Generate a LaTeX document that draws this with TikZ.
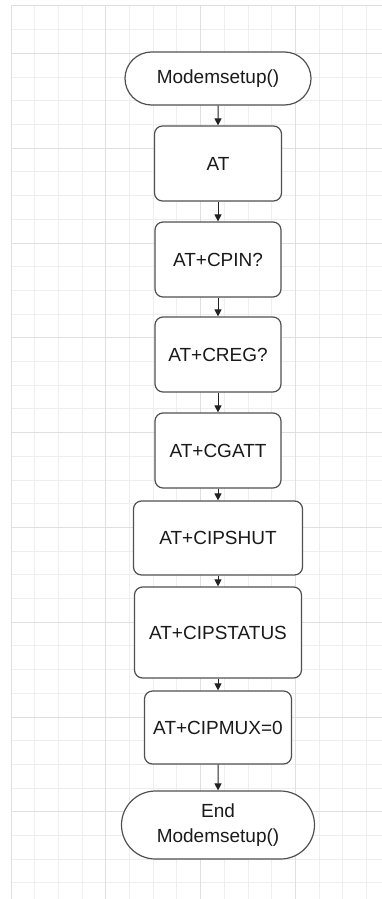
\documentclass[tikz,border=0pt]{standalone}
\usepackage{fontspec}
\setmainfont{Liberation Sans}
\usetikzlibrary{arrows.meta,shapes.misc}

\definecolor{gridminor}{HTML}{EEEEEE}
\definecolor{gridmajor}{HTML}{DFDFDF}
\definecolor{boxline}{HTML}{505050}
\definecolor{flowline}{HTML}{222222}
\definecolor{labeltext}{HTML}{1A1A1A}

\tikzset{
  stepbox/.style={draw=boxline, line width=1.2pt, fill=white, rounded corners=8pt,
    text=labeltext, align=center, inner sep=0pt,
    font=\fontsize{19}{25}\selectfont},
  termbox/.style={stepbox, rounded rectangle, rounded corners=0pt},
  flow/.style={draw=flowline, line width=1pt, -{Triangle[width=7pt,length=7pt]}},
}

\begin{document}
\begin{tikzpicture}[x=1pt,y=-1pt]
  \useasboundingbox (0,0) rectangle (382,899);
  \fill[white] (0,0) rectangle (382,899);

  % background grid
  \begin{scope}
    \clip (11,6) rectangle (382,899);
    \foreach \i in {0,...,16}
      \draw[gridminor, line width=1pt] ({11+\i*23.7},6) -- ({11+\i*23.7},899);
    \foreach \j in {0,...,38}
      \draw[gridminor, line width=1pt] (11,{6+\j*23.7}) -- (382,{6+\j*23.7});
    \foreach \i in {0,4,...,16}
      \draw[gridmajor, line width=1pt] ({11+\i*23.7},6) -- ({11+\i*23.7},899);
    \foreach \j in {0,2,6,...,38}
      \draw[gridmajor, line width=1pt] (11,{6+\j*23.7}) -- (382,{6+\j*23.7});
  \end{scope}

  % flowchart steps
  \node[termbox, minimum width=186pt, minimum height=53pt] (start) at (218,78.5) {Modemsetup()};
  \node[stepbox, minimum width=127pt, minimum height=75pt] (at)     at (218,163.5) {AT};
  \node[stepbox, minimum width=126pt, minimum height=75pt] (cpin)   at (218,259.5) {AT+CPIN?};
  \node[stepbox, minimum width=126pt, minimum height=75pt] (creg)   at (218,354.5) {AT+CREG?};
  \node[stepbox, minimum width=126pt, minimum height=75pt] (cgatt)  at (218,450.5) {AT+CGATT};
  \node[stepbox, minimum width=169pt, minimum height=74pt] (shut)   at (218,538) {AT+CIPSHUT};
  \node[stepbox, minimum width=167pt, minimum height=91pt] (status) at (218,632.5) {AT+CIPSTATUS};
  \node[stepbox, minimum width=147pt, minimum height=73pt] (mux)    at (218,727.5) {AT+CIPMUX=0};
  \node[termbox, minimum width=193pt, minimum height=68pt] (end)    at (218,825) {End\\Modemsetup()};

  % connectors
  \draw[flow] (start) -- (at);
  \draw[flow] (at) -- (cpin);
  \draw[flow] (cpin) -- (creg);
  \draw[flow] (creg) -- (cgatt);
  \draw[flow] (cgatt) -- (shut);
  \draw[flow] (shut) -- (status);
  \draw[flow] (status) -- (mux);
  \draw[flow] (mux) -- (end);
\end{tikzpicture}
\end{document}
